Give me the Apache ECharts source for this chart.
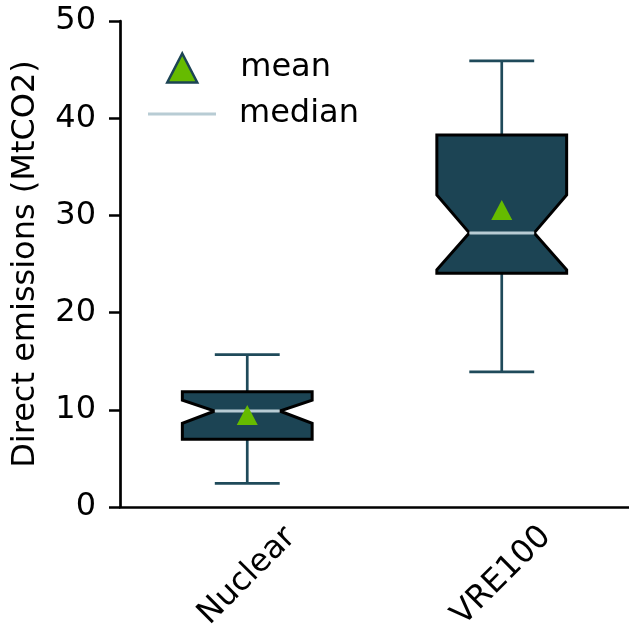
<!DOCTYPE html>
<html>
<head>
<meta charset="utf-8">
<script src="https://cdn.jsdelivr.net/npm/echarts@6/dist/echarts.min.js"></script>
<style>html,body{margin:0;padding:0;background:#fff}#c{width:629px;height:624px}</style>
</head>
<body>
<div id="c"></div>
<script>
const categories = ['Nuclear', 'VRE100'];
const whiskerLow = [2.44, 13.9];
const q1 = [6.97, 24.04];
const notchLow = [8.61, 24.4];
const median = [9.88, 28.2];
const notchHigh = [11.0, 32.1];
const q3 = [11.86, 38.27];
const whiskerHigh = [15.67, 45.9];
const means = [9.47, 30.56];
const yMin = 0, yMax = 50, yStep = 10;

const FONT = 'DejaVu Sans';
const BOX = '#1c4454';
const WHISK = '#1f4a5a';
const MED = '#b8ccd4';
const GREEN = '#66bb00';

const boxData = categories.map((c, i) => [i, whiskerLow[i], q1[i], notchLow[i], median[i], notchHigh[i], q3[i], whiskerHigh[i]]);
const medData = categories.map((c, i) => [i, median[i]]);
const meanData = categories.map((c, i) => [i, means[i]]);

function renderBox(params, api) {
  const idx = api.value(0);
  const band = api.size([1, 0])[0];
  const bw = band * 0.51;
  const cx = api.coord([idx, 0])[0];
  const y = k => api.coord([idx, api.value(k)])[1];
  const yWl = y(1), yQ1 = y(2), yNl = y(3), yMd = y(4), yNh = y(5), yQ3 = y(6), yWh = y(7);
  const L = cx - bw / 2, R = cx + bw / 2, nl = cx - bw / 4, nr = cx + bw / 4;
  const capL = cx - bw / 4, capR = cx + bw / 4;
  const ls = { stroke: WHISK, lineWidth: 2.7 };
  return {
    type: 'group',
    children: [
      { type: 'line', shape: { x1: cx, y1: yQ3, x2: cx, y2: yWh }, style: ls },
      { type: 'line', shape: { x1: cx, y1: yQ1, x2: cx, y2: yWl }, style: ls },
      { type: 'line', shape: { x1: capL, y1: yWh, x2: capR, y2: yWh }, style: ls },
      { type: 'line', shape: { x1: capL, y1: yWl, x2: capR, y2: yWl }, style: ls },
      { type: 'polygon', shape: { points: [[L, yQ1], [L, yNl], [nl, yMd], [L, yNh], [L, yQ3], [R, yQ3], [R, yNh], [nr, yMd], [R, yNl], [R, yQ1]] },
        style: { fill: BOX, stroke: '#000', lineWidth: 3, lineJoin: 'miter' } }
    ]
  };
}

function renderMedian(params, api) {
  const idx = api.value(0);
  const band = api.size([1, 0])[0];
  const bw = band * 0.51;
  const p = api.coord([idx, api.value(1)]);
  return { type: 'line', shape: { x1: p[0] - bw / 4, y1: p[1], x2: p[0] + bw / 4, y2: p[1] }, style: { stroke: MED, lineWidth: 3 } };
}

const chart = echarts.init(document.getElementById('c'), null, { renderer: 'canvas' });
chart.setOption({
  animation: false,
  backgroundColor: '#fff',
  textStyle: { fontFamily: FONT },
  grid: { left: 120, right: 0, top: 21, bottom: 117, containLabel: false, outerBoundsMode: 'none' },
  legend: [
    {
      data: [{ name: 'mean', icon: 'triangle', itemStyle: { color: GREEN, borderColor: BOX, borderWidth: 2.5, opacity: 1 } }],
      orient: 'vertical', left: 166, top: 51, padding: 0, itemWidth: 30, itemHeight: 29, selectedMode: false,
      textStyle: { fontFamily: FONT, fontSize: 32, color: '#000', lineHeight: 30, padding: [4, 0, 0, 38] }
    },
    {
      data: [{ name: 'median', icon: 'rect', itemStyle: { color: MED, opacity: 1 } }],
      orient: 'vertical', left: 148, top: 97, padding: 0, itemWidth: 68, itemHeight: 3, selectedMode: false,
      textStyle: { fontFamily: FONT, fontSize: 32, color: '#000', lineHeight: 30, padding: [4, 0, 0, 18] }
    }
  ],
  xAxis: {
    type: 'category', data: categories, boundaryGap: true,
    axisLine: { show: true, lineStyle: { color: '#000', width: 2.7 } },
    axisTick: { show: false },
    splitLine: { show: false },
    axisLabel: { rotate: 45, align: 'center', verticalAlign: 'middle', margin: 69, fontSize: 32, fontFamily: FONT, color: '#000' }
  },
  yAxis: {
    type: 'value', min: yMin, max: yMax, interval: yStep,
    name: 'Direct emissions (MtCO2)', nameLocation: 'middle', nameGap: 78,
    nameTextStyle: { fontSize: 32, fontFamily: FONT, color: '#000' },
    axisLine: { show: true, lineStyle: { color: '#000', width: 2.7 } },
    axisTick: { show: true, length: 11, lineStyle: { color: '#000', width: 2.5 } },
    splitLine: { show: false },
    axisLabel: { fontSize: 32, fontFamily: FONT, color: '#000', margin: 24 }
  },
  series: [
    { name: 'box', type: 'custom', renderItem: renderBox, data: boxData, encode: { x: 0, y: [1, 7] }, z: 2 },
    { name: 'median', type: 'custom', renderItem: renderMedian, data: medData, encode: { x: 0, y: 1 }, z: 3, itemStyle: { color: MED } },
    { name: 'mean', type: 'scatter', data: meanData, symbol: 'triangle', symbolSize: [21, 20], itemStyle: { color: GREEN, opacity: 1 }, z: 4 }
  ]
});
</script>
</body>
</html>
